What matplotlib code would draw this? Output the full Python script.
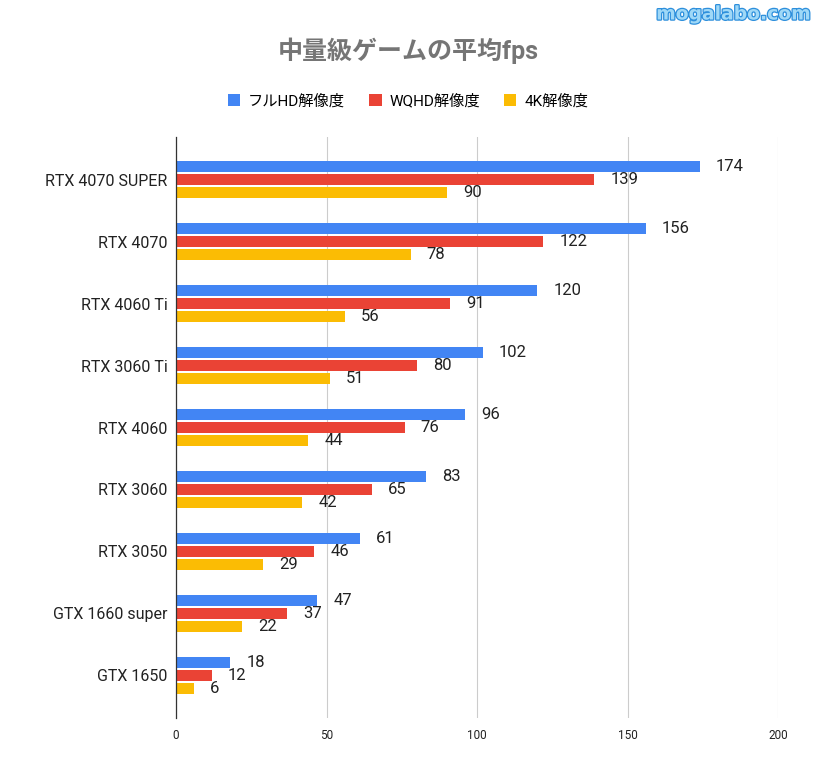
import matplotlib.pyplot as plt
import matplotlib.patheffects as pe
import numpy as np

plt.rcParams['font.family'] = ['Roboto', 'Noto Sans CJK JP', 'DejaVu Sans']

gpus = ['RTX 4070 SUPER', 'RTX 4070', 'RTX 4060 Ti', 'RTX 3060 Ti', 'RTX 4060',
        'RTX 3060', 'RTX 3050', 'GTX 1660 super', 'GTX 1650']
fhd = [174, 156, 120, 102, 96, 83, 61, 47, 18]
wqhd = [139, 122, 91, 80, 76, 65, 46, 37, 12]
uhd = [90, 78, 56, 51, 44, 42, 29, 22, 6]

series_names = ['フルHD解像度', 'WQHD解像度', '4K解像度']
colors = ['#4285F4', '#EA4335', '#FBBC04']
x_ticks = [0, 50, 100, 150, 200]

fig = plt.figure(figsize=(8.16, 7.77), dpi=100)
ax = fig.add_axes([176 / 816, 1 - 718 / 777, 602 / 816, 581 / 777])

y = np.arange(len(gpus))
bar_h = 0.18
offsets = [-0.21, 0.0, 0.21]
for vals, off, col, name in zip([fhd, wqhd, uhd], offsets, colors, series_names):
    ax.barh(y + off, vals, height=bar_h, color=col, label=name, zorder=3)
    for yi, v in zip(y, vals):
        # label sits a bit right of the bar end
        ax.annotate(str(v), (v, yi + off), xytext=(11.5, 0), textcoords='offset points',
                    va='center', ha='left', fontsize=12, color='#222222')

ax.set_xlim(0, 200)
ax.set_ylim(8.69, -0.69)
ax.set_xticks(x_ticks)
ax.set_xticklabels([str(t) for t in x_ticks], fontsize=8.5, color='#222222')
ax.set_yticks(y)
ax.set_yticklabels(gpus, fontsize=11.5, color='#222222')
ax.tick_params(length=0)
ax.tick_params(axis='x', pad=8)
ax.tick_params(axis='y', pad=6)
ax.grid(axis='x', color='#cccccc', linewidth=0.8, zorder=0)
for s in ['top', 'right', 'bottom']:
    ax.spines[s].set_visible(False)
ax.spines['left'].set_color('#333333')
ax.spines['left'].set_linewidth(0.9)
ax.spines['left'].set_zorder(4)

fig.text(0.5, 1 - 51 / 777, '中量級ゲームの平均fps', ha='center', va='center',
         fontsize=18, fontweight='bold', color='#757575')

fig.legend(loc='center', bbox_to_anchor=(0.5, 1 - 101 / 777), ncol=3, frameon=False,
           fontsize=11, handlelength=0.8, handleheight=0.8, handletextpad=0.5,
           columnspacing=1.6)

fig.text(0.993, 1 - 14 / 777, 'mogalabo.com', ha='right', va='center', fontsize=13.5,
         fontweight='bold', family='DejaVu Sans', color='#9fd8f7',
         path_effects=[pe.withStroke(linewidth=1.8, foreground='#2d8fdc')])

fig.savefig('out.png', dpi=100, facecolor='white')
